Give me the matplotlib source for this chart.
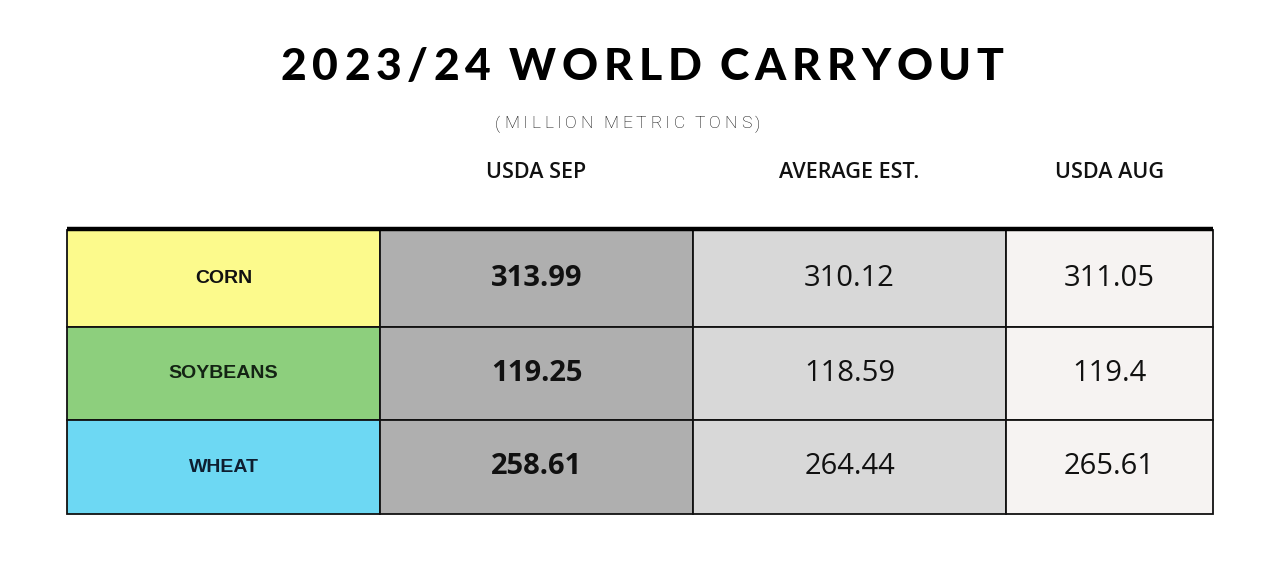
import matplotlib
matplotlib.use("Agg")
import matplotlib.pyplot as plt
from matplotlib.patches import Rectangle
from matplotlib.font_manager import FontProperties

# ---- data ----
title = "2023/24 WORLD CARRYOUT"
subtitle = "(MILLION METRIC TONS)"
columns = ["USDA SEP", "AVERAGE EST.", "USDA AUG"]
crops = ["CORN", "SOYBEANS", "WHEAT"]
usda_sep = ["313.99", "119.25", "258.61"]
average_est = ["310.12", "118.59", "264.44"]
usda_aug = ["311.05", "119.4", "265.61"]

crop_colors = ["#FCFA8C", "#8DCF7D", "#6DD8F3"]
crop_text_colors = ["#111111", "#142414", "#0E1E30"]
col_colors = ["#AFAFAF", "#D8D8D8", "#F6F3F2"]

W, H = 1284, 586
fig = plt.figure(figsize=(W / 100, H / 100), dpi=100)
ax = fig.add_axes([0, 0, 1, 1])
ax.set_xlim(0, W)
ax.set_ylim(H, 0)
ax.axis("off")
fig.patch.set_facecolor("white")

renderer = fig.canvas.get_renderer()


def spaced_text(x0, x1, y, s, prop, word_gap_ratio=2.4, color="black"):
    """Draw letter-spaced text spanning x0..x1 (pixels)."""
    widths = []
    for ch in s:
        if ch == " ":
            widths.append(0.0)
        else:
            w, h, d = renderer.get_text_width_height_descent(ch, prop, ismath=False)
            widths.append(w)
    total_chars = sum(widths)
    n_gaps = len(s) - 1
    n_spaces = s.count(" ")
    units = n_gaps + n_spaces * (word_gap_ratio - 1)
    track = (x1 - x0 - total_chars) / units
    x = x0
    for ch, w in zip(s, widths):
        if ch == " ":
            x += track * (word_gap_ratio - 1)
        else:
            ax.text(x, y, ch, fontproperties=prop, ha="left", va="center",
                    color=color)
            x += w + track


title_prop = FontProperties(family="Lato", weight="black", size=32)
spaced_text(281, 1015, 67, title, title_prop, word_gap_ratio=3.2)

sub_prop = FontProperties(family="Roboto", weight="light", size=12.5)
spaced_text(495, 768, 124, subtitle, sub_prop, word_gap_ratio=2.6, color="#000000")

# ---- table geometry ----
xs = [67, 380, 693, 1006, 1213]
ys = [230, 327, 420, 514]

header_prop = FontProperties(family="Open Sans", weight="semibold", size=15.5)
for j, name in enumerate(columns):
    cx = (xs[j + 1] + xs[j + 2]) / 2
    if j == 2:
        cx = 1110
    ax.text(cx, 172, name, fontproperties=header_prop, ha="center",
            va="center", color="#111111")

cols_values = [usda_sep, average_est, usda_aug]
label_prop = FontProperties(family="Liberation Sans", weight="bold", size=14)
val_bold = FontProperties(family="Open Sans", weight="bold", size=21)
val_reg = FontProperties(family="Open Sans", weight="normal", size=21)

for i, crop in enumerate(crops):
    y0, y1 = ys[i], ys[i + 1]
    cy = (y0 + y1) / 2
    ax.add_patch(Rectangle((xs[0], y0), xs[1] - xs[0], y1 - y0,
                           facecolor=crop_colors[i], edgecolor="#111111",
                           linewidth=1.3, zorder=1))
    ax.text((xs[0] + xs[1]) / 2, cy, crop, fontproperties=label_prop,
            ha="center", va="center", color=crop_text_colors[i], zorder=3)
    for j, vals in enumerate(cols_values):
        ax.add_patch(Rectangle((xs[j + 1], y0), xs[j + 2] - xs[j + 1], y1 - y0,
                               facecolor=col_colors[j], edgecolor="#111111",
                               linewidth=1.3, zorder=1))
        ax.text((xs[j + 1] + xs[j + 2]) / 2, cy, vals[i],
                fontproperties=val_bold if j == 0 else val_reg,
                ha="center", va="center", color="#111111", zorder=3)

# thick top rule
ax.plot([xs[0], xs[-1]], [228.5, 228.5], color="black", linewidth=3.2,
        solid_capstyle="butt", zorder=4)

fig.savefig("out.png", dpi=100, facecolor="white")
